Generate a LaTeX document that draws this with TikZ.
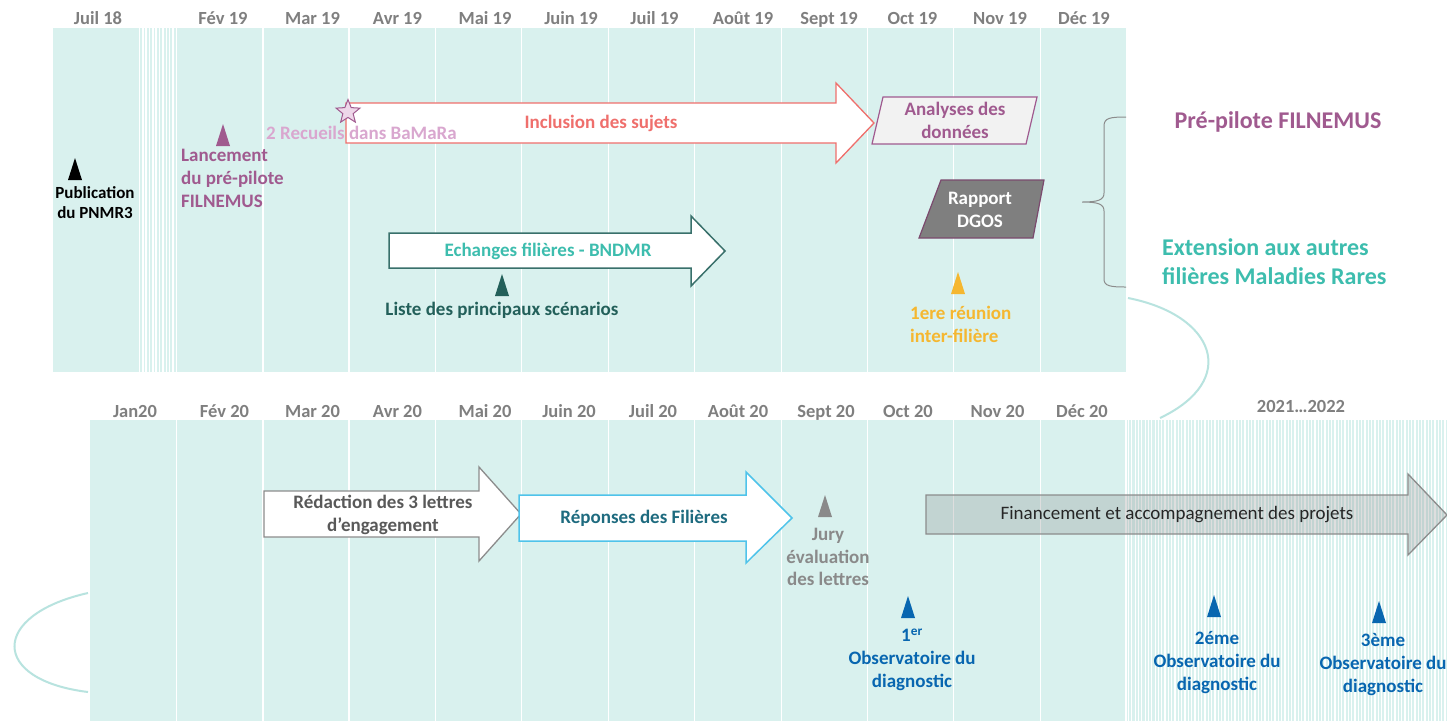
\documentclass[tikz,border=0pt]{standalone}
\usepackage{fontspec}
\setmainfont{Carlito}
\usetikzlibrary{shapes.geometric}

\definecolor{bgteal}{HTML}{D9F1EE}
\definecolor{monthgray}{HTML}{7F7F7F}
\definecolor{plum}{HTML}{A05A8F}
\definecolor{lightplum}{HTML}{D9A7CF}
\definecolor{salmon}{HTML}{EF6F6C}
\definecolor{tealtext}{HTML}{3DBDAE}
\definecolor{darkteal}{HTML}{23605A}
\definecolor{amber}{HTML}{F5B730}
\definecolor{obsblue}{HTML}{0866B0}
\definecolor{jurygray}{HTML}{8A8A8A}
\definecolor{redgray}{HTML}{595959}
\definecolor{repblue}{HTML}{1E6B7F}
\definecolor{repline}{HTML}{4FC3EA}
\definecolor{loopteal}{HTML}{B8E3DF}
\definecolor{rapportgray}{HTML}{7F7F7F}
\definecolor{rapportline}{HTML}{7B4A6E}

\begin{document}
\begin{tikzpicture}[x=1pt,y=-1pt,
  month/.style={font=\bfseries\fontsize{18.5}{22}\selectfont, text=monthgray, inner sep=0, anchor=base},
  lbl/.style={font=\bfseries\fontsize{19}{23}\selectfont, inner sep=0, align=center},
  small/.style={font=\bfseries\fontsize{17}{20}\selectfont, inner sep=0, align=center},
  big/.style={font=\bfseries\fontsize{24}{29}\selectfont, inner sep=0, align=left},
  tri/.pic={\fill (-7,0) -- (0,-22) -- (7,0) -- cycle;},
  sep/.style={white, line width=1.5}
]
\useasboundingbox[fill=white] (0,0) rectangle (1447,721);

% ---------- 2019 panel ----------
\fill[bgteal] (53,28) rectangle (1126,372);
\foreach \x in {263,349,435.5,521.5,608.5,694.5,781.5,867.5,953.5,1040.5}
  \draw[sep] (\x,28) -- (\x,372);
\foreach \i in {0,...,11}
  \draw[white, line width=1.6] ({139.5+\i*3.35},28) -- ++(0,344);

\node[month] (j18) at (98,24.5) {Juil 18};
\node[month] (f19) at (223,24.5) {Fév 19};
\node[month] (mr19) at (312.5,24.5) {Mar 19};
\node[month] (av19) at (397.5,24.5) {Avr 19};
\node[month] (ma19) at (485,24.5) {Mai 19};
\node[month] (jn19) at (571,24.5) {Juin 19};
\node[month] (jl19) at (654.5,24.5) {Juil 19};
\node[month] (ao19) at (743,24.5) {Août 19};
\node[month] (se19) at (829,24.5) {Sept 19};
\node[month] (oc19) at (912.5,24.5) {Oct 19};
\node[month] (no19) at (1000,24.5) {Nov 19};
\node[month] (de19) at (1084,24.5) {Déc 19};

% milestones 2019
\pic[black] at (75,180) {tri};
\node[small, text=black] (pnmr) at (95,203) {Publication\\du PNMR3};

\pic[plum] at (223,146) {tri};
\node[lbl, text=plum, align=left, anchor=west] (lance) at (181,178.5) {Lancement\\du pré-pilote\\FILNEMUS};

% inclusion arrow
\draw[salmon, line width=1.3, fill=white]
  (346,103) -- (836,103) -- (836,83) -- (874,123) -- (836,163) -- (836,143) -- (346,143) -- cycle;
\node[lbl, text=salmon] (incl) at (601,123) {Inclusion des sujets};
\node[lbl, text=lightplum, anchor=west] (bamara) at (266,133) {2 Recueils dans BaMaRa};
\node[star, star points=5, star point ratio=2.3, minimum size=25pt, inner sep=0,
      draw=plum, line width=1, fill=lightplum!45] (star) at (348,112) {};

% analyses
\draw[plum, line width=1.2, fill=black!5] (883,97) -- (1037,97) -- (1026,144) -- (872,144) -- cycle;
\node[lbl, text=plum] (analyses) at (955,120.5) {Analyses des\\données};

% rapport
\draw[rapportline, line width=1.2, fill=rapportgray] (941,180) -- (1044,180) -- (1033,238) -- (919,238) -- cycle;
\node[lbl, text=white] (rapport) at (980,209.5) {Rapport\\DGOS};

% echanges arrow
\draw[darkteal!90, line width=1.5, fill=white]
  (389,233) -- (691,233) -- (691,216) -- (725,251) -- (691,286) -- (691,268) -- (389,268) -- cycle;
\node[lbl, text=tealtext] (echanges) at (548,251) {Echanges filières - BNDMR};

\pic[darkteal] at (502,296) {tri};
\node[lbl, text=darkteal] (liste) at (502,310) {Liste des principaux scénarios};

\pic[amber] at (958,294) {tri};
\node[lbl, text=amber, align=left, anchor=west] (reunion) at (910,324) {1ere réunion\\inter-filière};

% brace and phase labels
\draw[monthgray!90, line width=1]
  (1126,117) .. controls (1110,117) and (1104,118) .. (1104,126) -- (1104,193)
  .. controls (1104,200) and (1098,202) .. (1082,202)
  .. controls (1098,202) and (1104,204) .. (1104,211) -- (1104,279)
  .. controls (1104,286) and (1110,287) .. (1126,287);
\node[big, text=plum] (prepilote) at (1278,122) {Pré-pilote FILNEMUS};
\node[big, text=tealtext, anchor=west] (extension) at (1162,261.5) {Extension aux autres\\filières Maladies Rares};

% loops linking the two rows
\draw[loopteal, line width=2] (1128,298) .. controls (1215,315) and (1240,380) .. (1160,418);
\draw[loopteal, line width=2] (88,593) .. controls (-10,615) and (-10,680) .. (88,692);

% ---------- 2020 panel ----------
\fill[bgteal] (90,420) rectangle (1447,721);
\foreach \x in {176.5,263,349,435.5,521.5,608.5,694.5,781.5,867.5,953.5,1040.5,1126}
  \draw[sep] (\x,420) -- (\x,721);
\foreach \i in {0,...,96}
  \draw[white, line width=1.3] ({1128.5+\i*3.33},420) -- ++(0,301);

\node[month] (ja20) at (135,417.5) {Jan20};
\node[month] (f20) at (224.5,417.5) {Fév 20};
\node[month] (mr20) at (312.5,417.5) {Mar 20};
\node[month] (av20) at (397.5,417.5) {Avr 20};
\node[month] (ma20) at (485,417.5) {Mai 20};
\node[month] (jn20) at (569,417.5) {Juin 20};
\node[month] (jl20) at (653,417.5) {Juil 20};
\node[month] (ao20) at (738,417.5) {Août 20};
\node[month] (se20) at (826,417.5) {Sept 20};
\node[month] (oc20) at (908,417.5) {Oct 20};
\node[month] (no20) at (997.5,417.5) {Nov 20};
\node[month] (de20) at (1082,417.5) {Déc 20};
\node[month] (y2122) at (1301,412.5) {2021…2022};

% redaction arrow
\draw[monthgray!90, line width=1.3, fill=white]
  (264,491) -- (479,491) -- (479,467) -- (521,514) -- (479,561) -- (479,537) -- (264,537) -- cycle;
\node[lbl, text=redgray] (redaction) at (383,514.5) {Rédaction des 3 lettres\\d’engagement};

% reponses arrow
\draw[repline, line width=1.5, fill=white]
  (519,495) -- (746,495) -- (746,472) -- (792,518) -- (746,563) -- (746,541) -- (519,541) -- cycle;
\node[lbl, text=repblue] (reponses) at (644,518) {Réponses des Filières};

\pic[jurygray] at (825,517) {tri};
\node[lbl, text=jurygray, font=\bfseries\fontsize{19}{22.5}\selectfont] (jury) at (828,557) {Jury\\évaluation\\des lettres};

% funding arrow
\draw[monthgray!90, line width=1.3, fill=monthgray, fill opacity=0.25]
  (926,495) -- (1408,495) -- (1408,474) -- (1447,515) -- (1408,555) -- (1408,534) -- (926,534) -- cycle;
\node[font=\fontsize{19}{23}\selectfont, text=black!85, inner sep=0] (fin) at (1177,515) {Financement et accompagnement des projets};

% observatoire milestones
\pic[obsblue] at (908,618) {tri};
\node[lbl, text=obsblue] (obs1) at (912,660) {1\textsuperscript{er}\\Observatoire du\\diagnostic};
\pic[obsblue] at (1214,617) {tri};
\node[lbl, text=obsblue] (obs2) at (1217,663) {2éme\\Observatoire du\\diagnostic};
\pic[obsblue] at (1379,623) {tri};
\node[lbl, text=obsblue] (obs3) at (1383,665) {3ème\\Observatoire du\\diagnostic};

\end{tikzpicture}
\end{document}
